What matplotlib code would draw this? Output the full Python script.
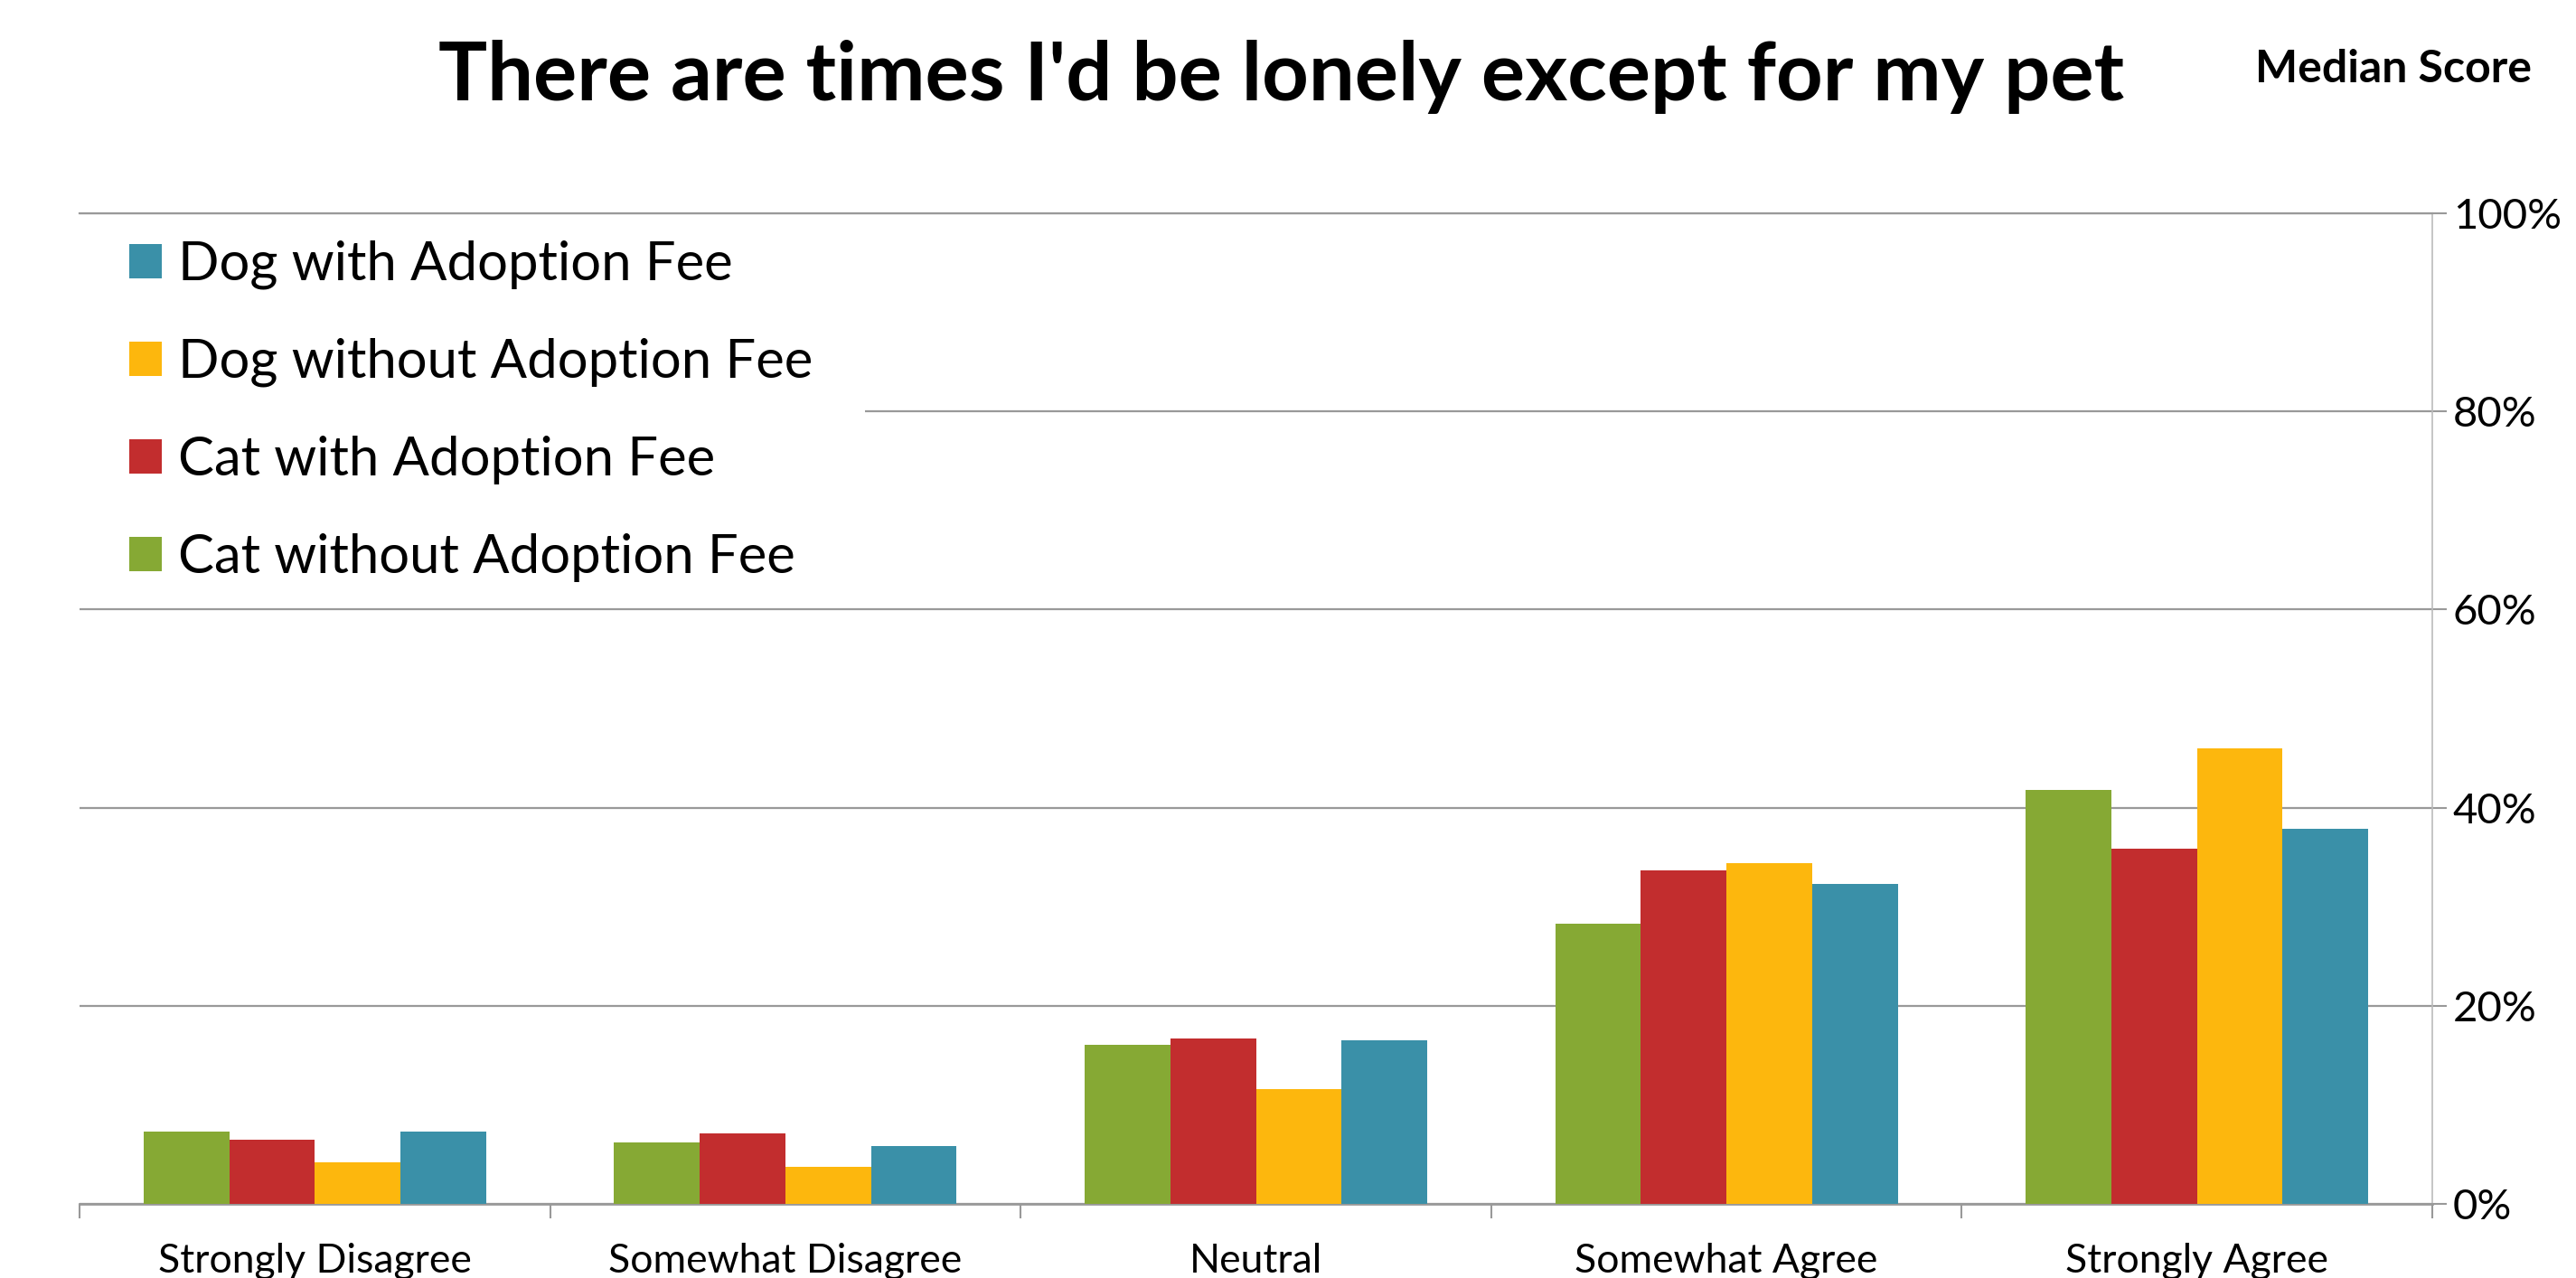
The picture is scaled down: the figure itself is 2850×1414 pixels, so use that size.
import numpy as np
import matplotlib
matplotlib.use("Agg")
import matplotlib.pyplot as plt
from matplotlib.patches import Rectangle

plt.rcParams["font.family"] = ["Lato", "DejaVu Sans"]

categories = ["Strongly Disagree", "Somewhat Disagree", "Neutral", "Somewhat Agree", "Strongly Agree"]
series_names = ["Cat without Adoption Fee", "Cat with Adoption Fee",
                "Dog without Adoption Fee", "Dog with Adoption Fee"]
cat_without = [7.3, 6.2, 16.1, 28.3, 41.8]
cat_with = [6.5, 7.1, 16.7, 33.7, 35.9]
dog_without = [4.2, 3.7, 11.6, 34.4, 46.0]
dog_with = [7.3, 5.8, 16.5, 32.3, 37.9]
colors = ["#86A934", "#C22D2E", "#FDB70D", "#3A90A8"]
yticks = [0, 20, 40, 60, 80, 100]
ytick_labels = ["0%", "20%", "40%", "60%", "80%", "100%"]

GRID = "#999999"


def main():
    fig = plt.figure(figsize=(28.5, 14.14), dpi=100)
    ax = fig.add_axes([0.0309, 0.058, 0.9133, 0.775])

    x = np.arange(len(categories))
    w = 0.182
    values = [cat_without, cat_with, dog_without, dog_with]
    bars = []
    for i, (vals, c, name) in enumerate(zip(values, colors, series_names)):
        b = ax.bar(x + (i - 1.5) * w, vals, w, color=c, label=name, linewidth=0, zorder=3)
        bars.append(b)

    ax.set_xlim(-0.5, len(categories) - 0.5)
    ax.set_ylim(0, 100)

    ax.yaxis.tick_right()
    ax.set_yticks(yticks)
    ax.set_yticklabels(ytick_labels)
    ax.tick_params(axis="y", length=11.5, width=1.5, color=GRID, labelsize=34, pad=5)
    ax.yaxis.grid(True, color=GRID, linewidth=1.6)
    ax.set_axisbelow(True)

    ax.set_xticks(x)
    ax.set_xticklabels(categories)
    ax.set_xticks(np.arange(len(categories) + 1) - 0.5, minor=True)
    ax.tick_params(axis="x", which="major", length=0, labelsize=32, pad=31)
    ax.tick_params(axis="x", which="minor", length=11.5, width=1.5, color=GRID)

    ax.spines["left"].set_visible(False)
    ax.spines["top"].set_color(GRID)
    ax.spines["top"].set_linewidth(1.6)
    ax.spines["right"].set_color("#bbbbbb")
    ax.spines["right"].set_linewidth(1.2)
    ax.spines["bottom"].set_color(GRID)
    ax.spines["bottom"].set_linewidth(2)

    # legend lists the series in reverse order
    handles = bars[::-1]
    labels = series_names[::-1]
    leg = ax.legend(handles, labels, loc="upper left", bbox_to_anchor=(0.0165, 0.984),
                    fontsize=43, frameon=False, borderpad=0.2, borderaxespad=0,
                    handlelength=0.6, handleheight=0.6, handletextpad=0.3,
                    labelspacing=0.9)
    leg.set_zorder(2)

    # white box behind the legend hides part of the 80% gridline
    fig.canvas.draw()
    bb = leg.get_window_extent().transformed(ax.transAxes.inverted())
    ax.add_patch(Rectangle((0, bb.y0), 0.334, bb.height, transform=ax.transAxes,
                           facecolor="white", edgecolor="none", zorder=1.5))

    fig.text(0.4975, 0.94, "There are times I'd be lonely except for my pet",
             ha="center", va="center", fontsize=65, fontweight="bold")
    fig.text(0.929, 0.946, "Median Score", ha="center", va="center",
             fontsize=36, fontweight="bold")

    fig.savefig("out.png", dpi=100)


if __name__ == "__main__":
    main()
